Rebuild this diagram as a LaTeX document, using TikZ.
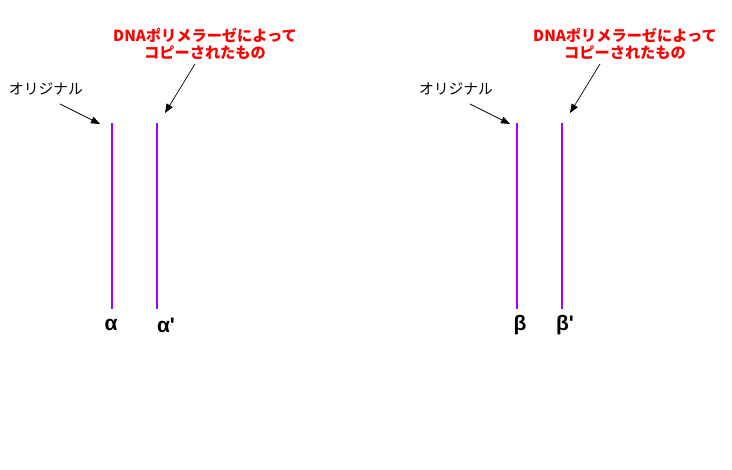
\documentclass[tikz,border=0pt]{standalone}
\usepackage{fontspec}
\setmainfont{Liberation Sans}
\newfontfamily\jp{Noto Sans CJK JP}
\newfontfamily\grk{Liberation Sans}
\usetikzlibrary{arrows.meta}
\definecolor{strand}{RGB}{170,0,255}
\definecolor{redlab}{RGB}{255,0,0}
\tikzset{
  strandline/.style={draw=strand, line width=1.6pt},
  origlab/.style={font=\jp\fontsize{14.8}{17}\selectfont, text=black, inner sep=1pt},
  copylab/.style={font=\jp\bfseries\fontsize{15.2}{17.5}\selectfont, text=redlab, align=center, inner sep=1pt},
  greek/.style={font=\grk\bfseries\fontsize{21}{24}\selectfont, inner sep=0pt},
  pointer/.style={draw=black, line width=0.7pt, -{Triangle[length=9pt,width=7pt]}}
}
\begin{document}
\begin{tikzpicture}[x=1pt,y=-1pt]
\useasboundingbox (0,0) rectangle (732,470);
% left pair
\coordinate (a1) at (112,123);
\coordinate (a1b) at (112,309);
\coordinate (a2) at (157,123);
\coordinate (a2b) at (157,309);
\draw[strandline] (a1) -- (a1b);
\draw[strandline] (a2) -- (a2b);
\node[greek] (alpha) at (111,325) {α};
\node[greek] (alphap) at (166,325) {α'};
\node[origlab] (origL) at (46,89) {オリジナル};
\node[copylab] (copyL) at (205,44) {DNAポリメラーゼによって\\コピーされたもの};
\coordinate (tipL1) at (100,124);
\coordinate (tipL2) at (165,113);
\coordinate (tailL1) at (60,104);
\coordinate (tailL2) at (195,64);
\draw[pointer] (tailL1) -- (tipL1);
\draw[pointer] (tailL2) -- (tipL2);
% right pair
\coordinate (b1) at (517,123);
\coordinate (b1b) at (517,309);
\coordinate (b2) at (562,123);
\coordinate (b2b) at (562,309);
\draw[strandline] (b1) -- (b1b);
\draw[strandline] (b2) -- (b2b);
\node[greek] (beta) at (520,325) {β};
\node[greek] (betap) at (565,325) {β'};
\node[origlab] (origR) at (456,89) {オリジナル};
\node[copylab] (copyR) at (625,44) {DNAポリメラーゼによって\\コピーされたもの};
\coordinate (tipR1) at (510,124);
\coordinate (tipR2) at (570,113);
\coordinate (tailR1) at (470,104);
\coordinate (tailR2) at (600,64);
\draw[pointer] (tailR1) -- (tipR1);
\draw[pointer] (tailR2) -- (tipR2);
\end{tikzpicture}
\end{document}
